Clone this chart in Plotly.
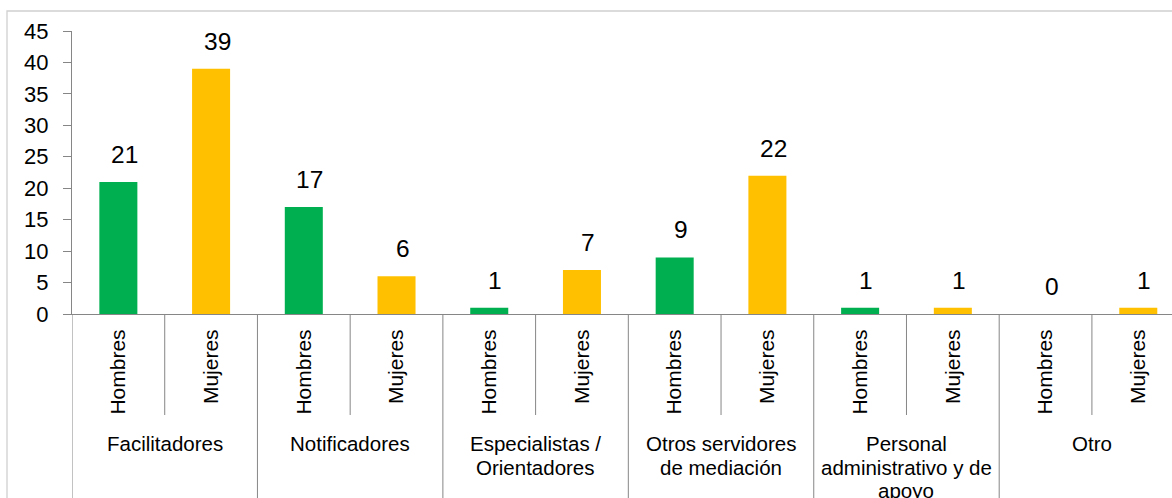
import plotly.graph_objects as go

# ---- data ----
groups = ["Facilitadores", "Notificadores", "Especialistas /<br>Orientadores",
          "Otros servidores<br>de mediación", "Personal<br>administrativo y de<br>apoyo", "Otro"]
sexes = ["Hombres", "Mujeres"]
hombres = [21, 17, 1, 9, 1, 0]
mujeres = [39, 6, 7, 22, 1, 1]
y_ticks = [0, 5, 10, 15, 20, 25, 30, 35, 40, 45]

COLORS = {"Hombres": "#00B050", "Mujeres": "#FFC000"}
AXIS_COLOR = "#868686"
FONT = "Liberation Sans, Arial, sans-serif"

keys, subs, vals, cols = [], [], [], []
for g, h, m in zip(groups, hombres, mujeres):
    for s, v in zip(sexes, (h, m)):
        keys.append(f"{g}|{s}")
        subs.append(s)
        vals.append(v)
        cols.append(COLORS[s])

W, H = 1172, 498
ML, MT, MB = 72, 31, 184
plot_w = W - ML
plot_h = H - MT - MB
cat_px = 92.72
n_visible = plot_w / cat_px

fig = go.Figure()
fig.add_trace(go.Bar(x=keys, y=vals, marker=dict(color=cols, line=dict(width=0)),
                     hoverinfo="x+y", showlegend=False))

# data labels
for k, v in zip(keys, vals):
    fig.add_annotation(x=k, y=v, text=str(v), showarrow=False, yanchor="bottom",
                       yshift=12, xshift=6, font=dict(size=24.5, color="#000", family=FONT))

# category dividers
shapes = []
ncat = len(keys)
for i in range(ncat + 1):
    b = i - 0.5
    is_group = (i % len(sexes) == 0)
    y0 = -0.75 if is_group else -101 / plot_h
    shapes.append(dict(type="line", xref="x", yref="paper", x0=b, x1=b, y0=0, y1=y0,
                       line=dict(color=AXIS_COLOR, width=1)))

# group labels (one annotation per line for tighter line spacing)
LINE_H = 23.5
for gi, g in enumerate(groups):
    center = gi * len(sexes) + (len(sexes) - 1) / 2
    for li, line in enumerate(g.split("<br>")):
        fig.add_annotation(x=center, y=-(430 - (H - MB)) / plot_h, xref="x", yref="paper",
                           text=line, showarrow=False, yanchor="top", align="center",
                           yshift=-li * LINE_H,
                           font=dict(size=20.5, color="#000", family=FONT))

# outer chart border
shapes.append(dict(type="rect", xref="paper", yref="paper",
                   x0=(7 - ML) / plot_w, x1=1.2, y0=-1.0, y1=(H - MB - 11) / plot_h,
                   line=dict(color="#D0D0D0", width=1.3), fillcolor="rgba(0,0,0,0)", layer="below"))

fig.update_layout(
    width=W, height=H,
    margin=dict(l=ML, r=0, t=MT, b=MB, pad=0),
    paper_bgcolor="white", plot_bgcolor="white",
    font=dict(family=FONT, color="#000"),
    bargap=0.59,
    shapes=shapes,
    xaxis=dict(type="category", categoryorder="array", categoryarray=keys,
               tickvals=keys, ticktext=subs, tickangle=-90,
               range=[-0.5, -0.5 + n_visible],
               showline=True, linecolor=AXIS_COLOR, linewidth=1,
               ticks="", ticklabelstandoff=6, showgrid=False, zeroline=False,
               tickfont=dict(size=21, color="#000", family=FONT)),
    yaxis=dict(range=[0, 45], tickvals=y_ticks, showgrid=False, zeroline=False,
               showline=True, linecolor=AXIS_COLOR, linewidth=1,
               ticks="outside", ticklen=8, tickcolor=AXIS_COLOR, tickwidth=1,
               ticklabelstandoff=10,
               tickfont=dict(size=22, color="#000", family=FONT)),
)

fig.write_html("out.html")
